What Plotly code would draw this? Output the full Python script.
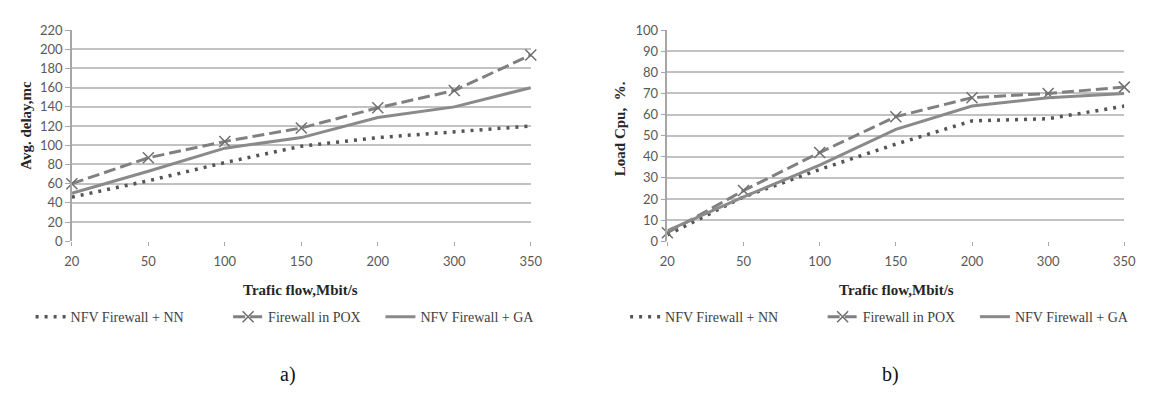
import plotly.graph_objects as go

W, H = 1154, 399

categories = ["20", "50", "100", "150", "200", "300", "350"]

# Panel a) average delay
delay_nn = [46, 63, 82, 99, 108, 114, 120]
delay_pox = [60, 87, 104, 118, 139, 157, 194]
delay_ga = [50, 73, 97, 108, 129, 140, 160]

# Panel b) CPU load
cpu_nn = [3, 21, 34, 46, 57, 58, 64]
cpu_pox = [4, 24, 42, 59, 68, 70, 73]
cpu_ga = [5, 21, 36, 53, 64, 68, 70]

names = ["NFV Firewall + NN", "Firewall in POX", "NFV Firewall + GA"]
y_ticks_a = list(range(0, 221, 20))
y_ticks_b = list(range(0, 101, 10))

def px(x):
    return x / W

def py(y):
    return (H - y) / H

C_NN, C_POX, C_GA = "#555555", "#808080", "#8a8a8a"

fig = go.Figure()

def add_panel(xa, ya, legs, nn, pox, ga):
    fig.add_trace(go.Scatter(x=categories, y=nn, name=names[0], mode="lines",
                             line=dict(color=C_NN, width=3.5, dash="3px,6px"),
                             xaxis=xa, yaxis=ya, legend=legs[0], cliponaxis=False))
    fig.add_trace(go.Scatter(x=categories, y=pox, name=names[1], mode="lines+markers",
                             line=dict(color=C_POX, width=3, dash="12px,5px"),
                             marker=dict(symbol="x-thin", size=11, line=dict(color="#6e6e6e", width=1.5)),
                             xaxis=xa, yaxis=ya, legend=legs[1], cliponaxis=False))
    fig.add_trace(go.Scatter(x=categories, y=ga, name=names[2], mode="lines",
                             line=dict(color=C_GA, width=3),
                             xaxis=xa, yaxis=ya, legend=legs[2], cliponaxis=False))

add_panel("x", "y", ["legend", "legend2", "legend3"], delay_nn, delay_pox, delay_ga)
add_panel("x2", "y2", ["legend4", "legend5", "legend6"], cpu_nn, cpu_pox, cpu_ga)

tick_font = dict(family="Lato, Open Sans, sans-serif", size=13, color="#595959")

xcommon = dict(type="category", range=[0, 6], showgrid=False, zeroline=False,
               showline=False, ticks="outside", ticklen=4, tickcolor="#a6a6a6",
               tickfont=tick_font, ticklabelstandoff=4, fixedrange=True)
ycommon = dict(showgrid=True, gridcolor="#c2c2c2", gridwidth=2, zeroline=False,
               showline=True, linecolor="#a6a6a6", linewidth=1.5,
               ticks="outside", ticklen=5, tickcolor="#a6a6a6",
               tickfont=tick_font, fixedrange=True)

y0, y1 = py(243), py(23)

leg_font = dict(family="Liberation Serif, Times New Roman, serif", size=14, color="#404040")
legend_x = [23, 224, 379, 628, 829, 984]
legends = {}
for i, lx in enumerate(legend_x):
    key = "legend" if i == 0 else f"legend{i + 1}"
    legends[key] = dict(orientation="h", x=px(lx), xanchor="left", y=py(322), yanchor="middle",
                        font=leg_font, bgcolor="rgba(0,0,0,0)")

fig.update_layout(
    width=W, height=H, autosize=False,
    margin=dict(l=0, r=0, t=0, b=0),
    paper_bgcolor="white", plot_bgcolor="white",
    xaxis=dict(domain=[px(65), px(532)], anchor="y", **xcommon),
    xaxis2=dict(domain=[px(671), px(1136)], anchor="y2", **xcommon),
    yaxis=dict(domain=[y0, y1], anchor="x", range=[0, 220], tickvals=y_ticks_a, **ycommon),
    yaxis2=dict(domain=[y0, y1], anchor="x2", range=[0, 100], tickvals=y_ticks_b, **ycommon),
    showlegend=True,
    **legends,
)

serif_bold = dict(family="Liberation Serif, Times New Roman, serif", size=15, color="#262626")
annos = [
    dict(text="<b>Trafic flow,Mbit/s</b>", x=px(298), y=py(294)),
    dict(text="<b>Trafic flow,Mbit/s</b>", x=px(904), y=py(294)),
    dict(text="<b>Avg. delay,mc</b>", x=px(18), y=py(122), textangle=-90),
    dict(text="<b>Load Cpu,  %.</b>", x=px(623), y=py(126), textangle=-90),
]
for a in annos:
    fig.add_annotation(xref="paper", yref="paper", showarrow=False,
                       xanchor="center", yanchor="middle", font=serif_bold, **a)

for txt, x in [("a)", 285), ("b)", 898)]:
    fig.add_annotation(text=txt, xref="paper", yref="paper", x=px(x), y=py(382),
                       showarrow=False, xanchor="center", yanchor="middle",
                       font=dict(family="Liberation Serif, DejaVu Serif, serif", size=20, color="#111111"))

fig.write_html("out.html", config={"displayModeBar": False},
               post_script="document.body.style.margin='0';")
